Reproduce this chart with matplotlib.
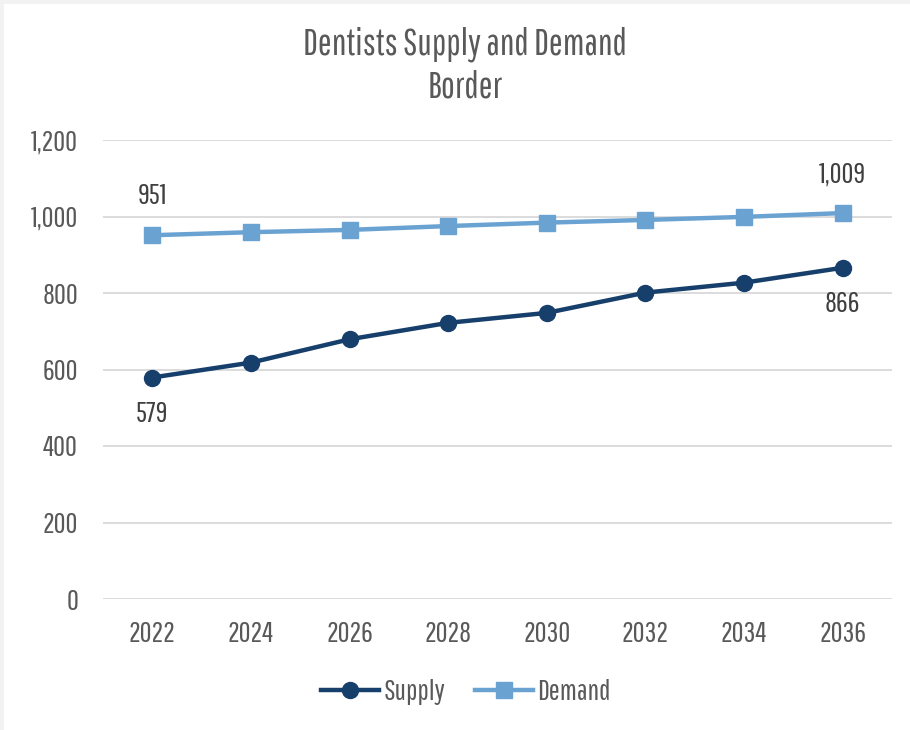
import matplotlib.pyplot as plt
from matplotlib.patches import Rectangle
from matplotlib.ticker import FuncFormatter

years = ["2022", "2024", "2026", "2028", "2030", "2032", "2034", "2036"]
supply = [579, 618, 679, 722, 748, 801, 827, 866]
demand = [951, 959, 965, 975, 984, 991, 999, 1009]

plt.rcParams['font.family'] = ['Pathway Gothic One', 'DejaVu Sans']
text_color = '#595959'
supply_color = '#173f6b'
demand_color = '#6aa2d2'

fig = plt.figure(figsize=(9.1, 7.3), dpi=100)
fig.patch.set_facecolor('#f2f2f2')
# white chart area inside the grey frame
fig.add_artist(Rectangle((4 / 910, 0), 1, 1 - 4 / 730, transform=fig.transFigure,
                         facecolor='white', edgecolor='none', zorder=0))

ax = fig.add_axes([103 / 910, 131 / 730, 789 / 910, 459 / 730])
ax.set_facecolor('white')
x = range(len(years))
ax.plot(x, demand, color=demand_color, lw=3.2, marker='s', markersize=11,
        label='Demand', zorder=3)
ax.plot(x, supply, color=supply_color, lw=3.2, marker='o', markersize=11.5,
        label='Supply', zorder=4)

ax.set_xlim(-0.5, len(years) - 0.5)
ax.set_ylim(0, 1200)
ax.set_yticks(range(0, 1201, 200))
ax.yaxis.set_major_formatter(FuncFormatter(lambda v, p: f"{int(v):,}"))
ax.set_xticks(list(x))
ax.set_xticklabels(years)
ax.grid(axis='y', color='#d9d9d9', lw=1.3)
ax.set_axisbelow(True)
for s in ax.spines.values():
    s.set_visible(False)
ax.tick_params(length=0, labelsize=21, colors=text_color, pad=16)
ax.tick_params(axis='y', pad=18)

# endpoint labels
def lab(i, vals, dy):
    ax.annotate(f"{vals[i]:,}", (i, vals[i]), xytext=(0, dy), textcoords='offset points',
                ha='center', va='center', fontsize=21, color='#404040')

lab(0, demand, 28)
lab(len(years) - 1, demand, 28)
lab(0, supply, -26)
lab(len(years) - 1, supply, -26)

fig.text(0.511, 1 - 26 / 730, "Dentists Supply and Demand\nBorder", ha='center', va='top',
         fontsize=26.5, color=text_color, linespacing=1.3)

handles, labels = ax.get_legend_handles_labels()
fig.legend(handles[::-1], labels[::-1], loc='center', bbox_to_anchor=(0.512, 1 - 692 / 730),
           ncol=2, frameon=False, fontsize=21, labelcolor=text_color,
           handlelength=2.0, handletextpad=0.15, columnspacing=1.0)

fig.savefig('out.png', dpi=100, facecolor=fig.get_facecolor())
